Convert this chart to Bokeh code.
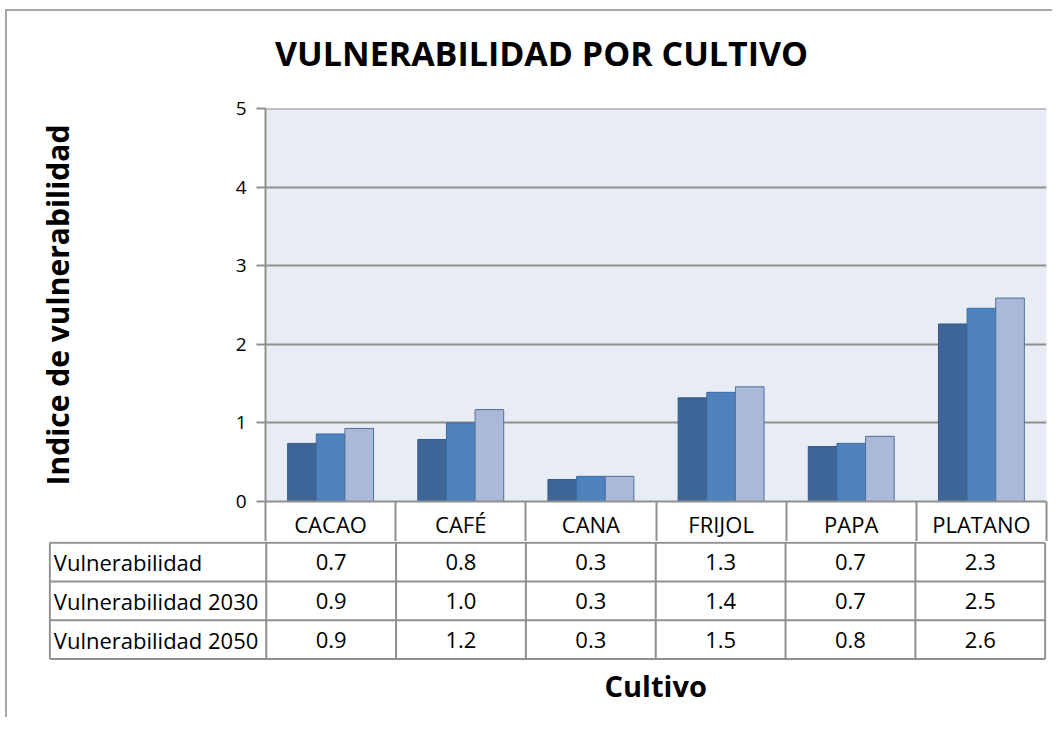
from bokeh.plotting import figure
from bokeh.models import Range1d, FixedTicker, ColumnDataSource, Div
from bokeh.layouts import column
from bokeh.embed import file_html
from bokeh.resources import INLINE
from bokeh.core.properties import value

# ---------------- data ----------------
categories = ["CACAO", "CAFÉ", "CANA", "FRIJOL", "PAPA", "PLATANO"]
series_names = ["Vulnerabilidad", "Vulnerabilidad 2030", "Vulnerabilidad 2050"]
vuln_actual = [0.74, 0.79, 0.28, 1.32, 0.70, 2.26]
vuln_2030 = [0.86, 1.00, 0.32, 1.39, 0.74, 2.46]
vuln_2050 = [0.93, 1.17, 0.32, 1.46, 0.83, 2.59]
y_ticks = [0, 1, 2, 3, 4, 5]
title_text = "VULNERABILIDAD POR CULTIVO"
y_label = "Indice de vulnerabilidad"
x_label = "Cultivo"

series_values = [vuln_actual, vuln_2030, vuln_2050]
colors = ["#3e6597", "#4f81bd", "#aab9d7"]
outline = ["#365a86", "#3d6ca3", "#4f6f9e"]
GRID = "#8f8f8f"
FONT = "Open Sans"
TABLE_FS = "22px"

# ---------------- layout constants ----------------
W = 1045
title_h = 60
frame_left = 258
frame_right_pad = 6
frame_w = W - frame_left - frame_right_pad
top_pad = 97 - title_h
frame_h = 393
head_row = 40
HA = top_pad + frame_h + head_row

label_col_left = 41
cat_px = frame_w / len(categories)
x0 = -(frame_left - label_col_left) / cat_px   # left edge of table label column (data units)

n = len(categories)
bar_w = 0.22
offsets = [-bar_w, 0.0, bar_w]

# ---------------- title ----------------
title_div = Div(
    text=(f'<div style="padding-top:25px; padding-left:268px; font-family:\'{FONT}\'; '
          f'font-weight:bold; font-size:34px; line-height:34px; color:black; '
          f'white-space:nowrap;">{title_text}</div>'),
    width=W, height=title_h, margin=(0, 0, 0, 0))

# ---------------- chart ----------------
pA = figure(width=W, height=HA, x_range=Range1d(0, n), y_range=Range1d(0, 5.004),
            min_border_left=frame_left, min_border_right=frame_right_pad,
            min_border_top=top_pad, min_border_bottom=head_row,
            toolbar_location=None, output_backend="svg")
pA.frame_align = False
pA.title.visible = False
pA.background_fill_color = "#e8ecf4"
pA.border_fill_color = "white"
pA.outline_line_color = None

for k, vals in enumerate(series_values):
    src = ColumnDataSource(dict(x=[i + 0.5 + offsets[k] for i in range(n)], top=vals))
    pA.vbar(x="x", top="top", bottom=0, width=bar_w, source=src,
            fill_color=colors[k], line_color=outline[k], line_width=1)

# y axis
pA.yaxis.ticker = FixedTicker(ticks=y_ticks)
pA.yaxis.axis_label = y_label
pA.yaxis.axis_label_text_font = FONT
pA.yaxis.axis_label_text_font_size = "30px"
pA.yaxis.axis_label_text_font_style = "bold"
pA.yaxis.axis_label_text_color = "black"
pA.yaxis.axis_label_standoff = 155
pA.yaxis.major_label_text_font = FONT
pA.yaxis.major_label_text_font_size = "19px"
pA.yaxis.major_label_text_color = "black"
pA.yaxis.major_label_standoff = 10
pA.yaxis.axis_line_color = GRID
pA.yaxis.axis_line_width = 2
pA.yaxis.major_tick_line_color = GRID
pA.yaxis.major_tick_line_width = 2
pA.yaxis.major_tick_out = 9
pA.yaxis.major_tick_in = 0
pA.yaxis.minor_tick_line_color = None

# x axis: header row of the data table
pA.xaxis.ticker = FixedTicker(ticks=[i + 0.5 for i in range(n)],
                              minor_ticks=list(range(n + 1)))
pA.xaxis.major_label_overrides = {i + 0.5: c for i, c in enumerate(categories)}
pA.xaxis.major_label_text_font = FONT
pA.xaxis.major_label_text_font_size = TABLE_FS
pA.xaxis.major_label_text_color = "black"
pA.xaxis.major_label_standoff = -33
pA.xaxis.major_tick_line_color = None
pA.xaxis.major_tick_out = 0
pA.xaxis.major_tick_in = 0
pA.xaxis.minor_tick_line_color = GRID
pA.xaxis.minor_tick_line_width = 2
pA.xaxis.minor_tick_out = head_row
pA.xaxis.minor_tick_in = 0
pA.xaxis.axis_line_color = GRID
pA.xaxis.axis_line_width = 2

pA.xgrid.grid_line_color = None
pA.ygrid.grid_line_color = GRID
pA.ygrid.grid_line_width = 2

# ---------------- data table ----------------
HB = 176
row_px = 39
n_rows = len(series_names)
pB = figure(width=W, height=HB,
            x_range=Range1d(x0 - 0.01, n + 0.01),
            y_range=Range1d(HB / row_px, -0.03),
            min_border_left=label_col_left, min_border_right=frame_right_pad,
            min_border_top=0, min_border_bottom=0,
            toolbar_location=None, output_backend="svg")
pB.frame_align = False
pB.title.visible = False
pB.axis.visible = False
pB.grid.visible = False
pB.outline_line_color = None
pB.background_fill_color = "white"

# horizontal rules
pB.segment(x0=[x0] * (n_rows + 1), x1=[n] * (n_rows + 1),
           y0=list(range(n_rows + 1)), y1=list(range(n_rows + 1)),
           line_color=GRID, line_width=2)
# vertical rules
vx = [x0] + list(range(n + 1))
pB.segment(x0=vx, x1=vx, y0=[0] * len(vx), y1=[n_rows] * len(vx),
           line_color=GRID, line_width=2)

# row labels
pB.text(x=[x0 + 4 / cat_px] * n_rows, y=[r + 0.5 for r in range(n_rows)], text=series_names,
        text_font=value(FONT), text_font_size=TABLE_FS, text_color="black",
        text_align="left", text_baseline="middle")

# cell values
cx, cy, ct = [], [], []
for r, vals in enumerate(series_values):
    for i, v in enumerate(vals):
        cx.append(i + 0.5)
        cy.append(r + 0.5)
        ct.append(f"{v:.1f}")
pB.text(x=cx, y=cy, text=ct, text_font=value(FONT), text_font_size=TABLE_FS,
        text_color="black", text_align="center", text_baseline="middle")

# x axis title
pB.text(x=[n / 2], y=[n_rows + 0.69], text=[x_label], text_font=value(FONT),
        text_font_size="29px", text_font_style="bold", text_color="black",
        text_align="center", text_baseline="middle")

layout = column(title_div, pA, pB, spacing=0,
                styles={"border-top": "2px solid #a8a8a8", "border-left": "2px solid #a8a8a8",
                        "margin-top": "9px", "margin-left": "5px"})

open("out.html", "w").write(file_html(layout, INLINE))
